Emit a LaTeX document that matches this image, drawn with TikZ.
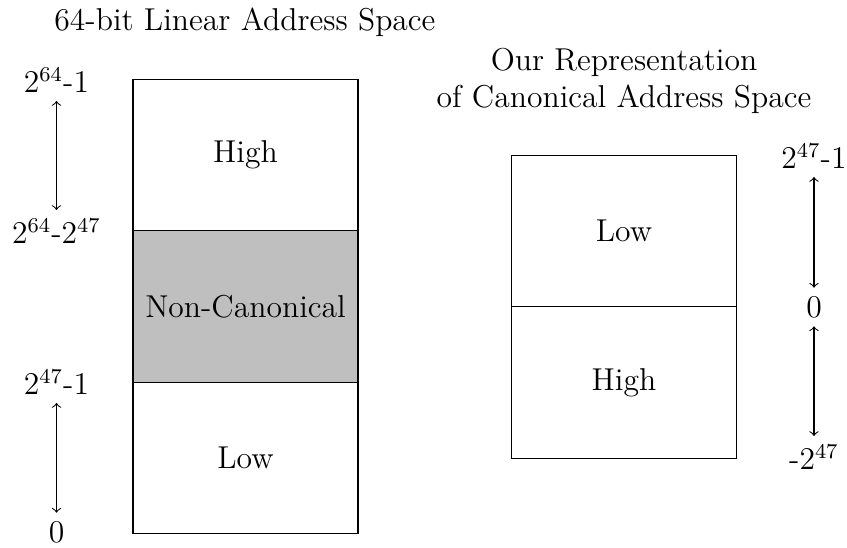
\documentclass[tikz,border=0pt]{standalone}
\begin{document}
\begin{tikzpicture}[x=0.3794pt, y=-0.3794pt, >=to, font=\large,
  region/.style={draw, inner sep=0pt, minimum width=3cm, minimum height=57.5pt},
  bound/.style={inner sep=3pt}]
\useasboundingbox (0,0) rectangle (847,548);

% Full 64-bit linear address space
\node at (245,22) (ltitle) {64-bit Linear Address Space};
\node[region] at (245.5,155) (lhigh) {High};
\node[region, fill=lightgray] at (245.5,306.5) (lnon) {Non-Canonical};
\node[region] at (245.5,458) (llow) {Low};

\node[bound] at (56.5,80) (l1) {$2^{64}$-1};
\node[bound] at (56.5,231) (l2) {$2^{64}$-$2^{47}$};
\node[bound] at (56.5,382) (l3) {$2^{47}$-1};
\node[bound] at (56.5,532) (l4) {0};
\draw[<->] (l1) -- (l2);
\draw[<->] (l3) -- (l4);

% Canonical address space as signed range
\node[align=center] at (624,81) (rtitle) {Our Representation\\of Canonical Address Space};
\node[region] at (624,231) (rlow) {Low};
\node[region] at (624,382.5) (rhigh) {High};

\node[bound] at (814,156) (r1) {$2^{47}$-1};
\node[bound] at (814,307) (r2) {0};
\node[bound] at (814,457) (r3) {-$2^{47}$};
\draw[<->] (r1) -- (r2);
\draw[<->] (r2) -- (r3);
\end{tikzpicture}
\end{document}
